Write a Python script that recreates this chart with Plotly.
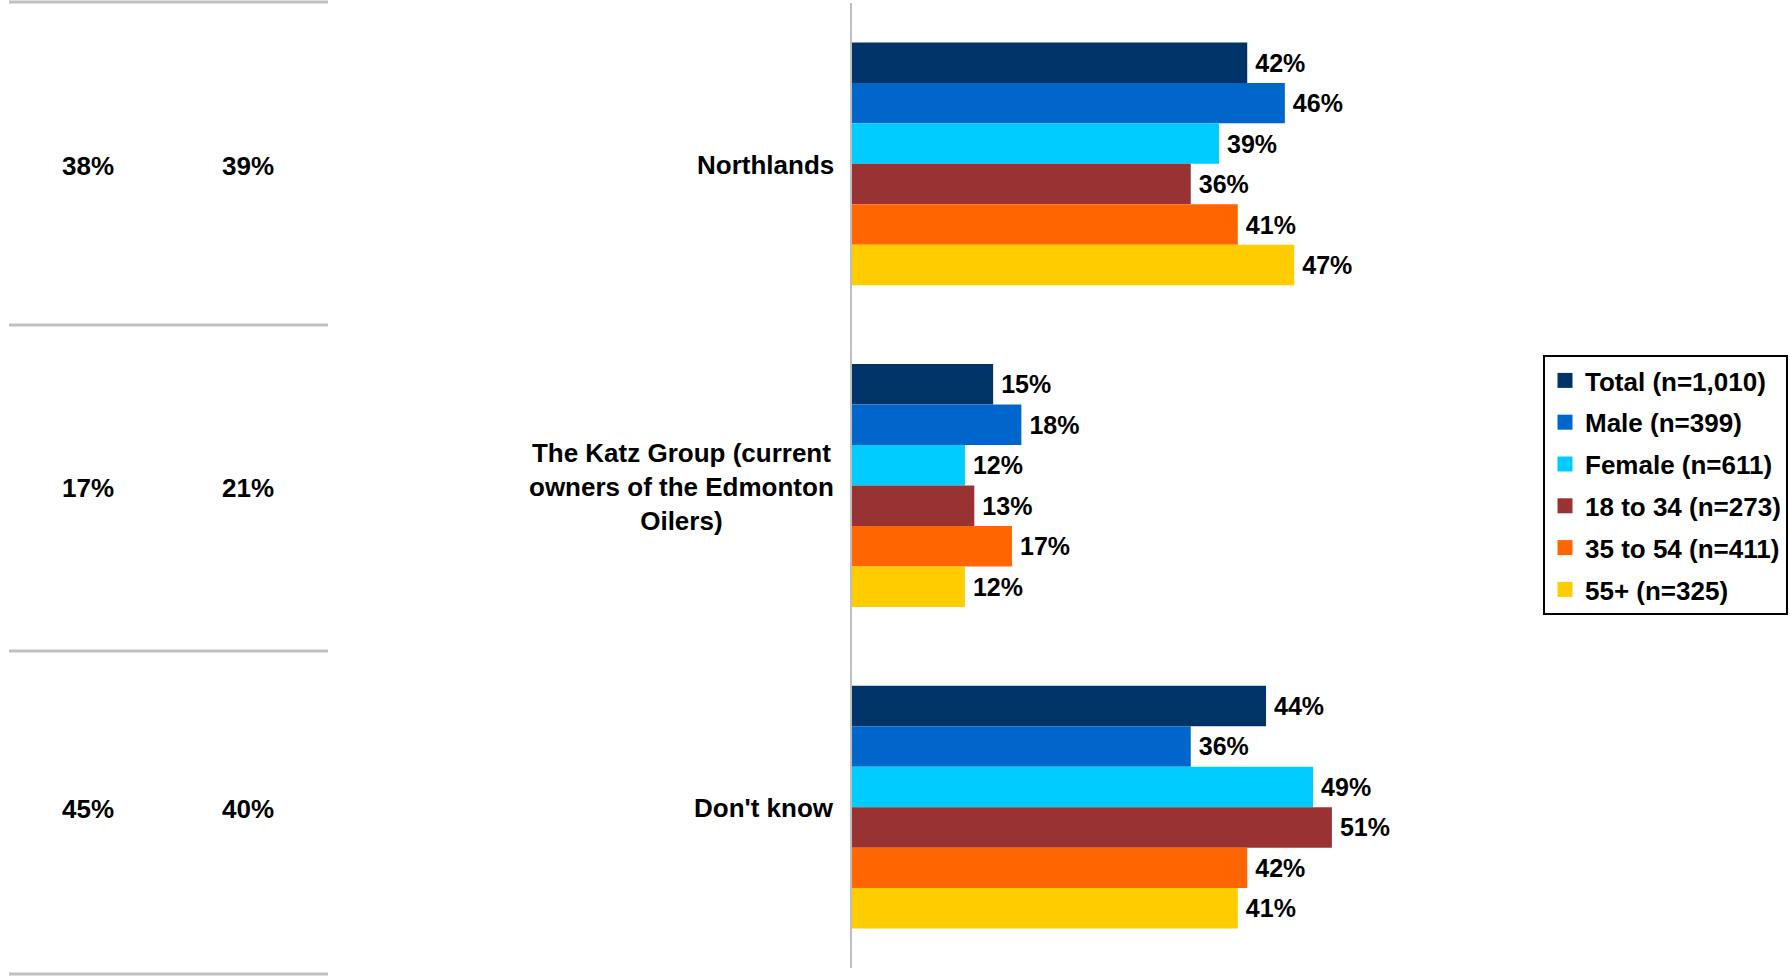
import plotly.graph_objects as go

# ---------------- data ----------------
categories = ["Northlands", "The Katz Group", "Don't know"]
category_labels = [
    "Northlands",
    "The Katz Group (current<br>owners of the Edmonton<br>Oilers)",
    "Don't know",
]
series_names = [
    "Total (n=1,010)",
    "Male (n=399)",
    "Female (n=611)",
    "18 to 34 (n=273)",
    "35 to 54 (n=411)",
    "55+ (n=325)",
]
total = [42, 15, 44]
male = [46, 18, 36]
female = [39, 12, 49]
age_18_34 = [36, 13, 51]
age_35_54 = [41, 17, 42]
age_55_plus = [47, 12, 41]
series_values = [total, male, female, age_18_34, age_35_54, age_55_plus]

# left-hand table columns (one value per category)
table_col1 = [38, 17, 45]
table_col2 = [39, 21, 40]

colors = ["#003366", "#0066CC", "#00CCFF", "#993333", "#FF6600", "#FFCC00"]

FONT = "Arial, 'Liberation Sans', sans-serif"
W, H = 1790, 976
ML, MR, MT, MB = 852, 270, 3, 8
PX_PER_PCT = 9.41
plot_w = W - ML - MR
plot_h = H - MT - MB


def px_x(px):
    return (px - ML) / plot_w


def px_y(py):
    return 1 - (py - MT) / plot_h


fig = go.Figure()
for name, vals, col in zip(series_names, series_values, colors):
    fig.add_trace(
        go.Bar(
            x=vals,
            y=categories,
            orientation="h",
            name=name,
            legendgroup=name,
            showlegend=False,
            marker=dict(color=col, line=dict(width=0)),
            text=[f"\u2009{v}%" for v in vals],
            textposition="outside",
            textfont=dict(family=FONT, size=25, color="black", weight="bold"),
            constraintext="none",
            cliponaxis=False,
            hoverinfo="skip",
        )
    )
# legend entries (square swatches like the original)
for name, col in zip(series_names, colors):
    fig.add_trace(
        go.Scatter(
            x=[None], y=[None], mode="markers", name=name, legendgroup=name,
            marker=dict(symbol="square", size=15, color=col),
            showlegend=True,
        )
    )

annotations = []
# category labels
for cat, lab in zip(categories, category_labels):
    annotations.append(
        dict(
            x=0, xref="x", y=cat, yref="y",
            text=f"<b>{lab}</b>", showarrow=False,
            xanchor="right", yanchor="middle", align="center",
            xshift=-16, yshift=-1,
            font=dict(family=FONT, size=26, color="black"),
        )
    )
# left table values
for cat, v1, v2 in zip(categories, table_col1, table_col2):
    for px, v in ((88, v1), (248, v2)):
        annotations.append(
            dict(
                x=px_x(px), xref="paper", y=cat, yref="y",
                text=f"<b>{v}%</b>", showarrow=False,
                xanchor="center", yanchor="middle", yshift=-2,
                font=dict(family=FONT, size=26, color="black"),
            )
        )

shapes = []
for py in (2, 325, 651, 974):
    shapes.append(
        dict(
            type="line", xref="paper", yref="paper",
            x0=px_x(9), x1=px_x(328), y0=px_y(py), y1=px_y(py),
            line=dict(color="#C0C0C0", width=3),
        )
    )

fig.update_layout(
    width=W, height=H,
    margin=dict(l=ML, r=MR, t=MT, b=MB, pad=0),
    paper_bgcolor="white", plot_bgcolor="white",
    barmode="group", bargap=0.245, bargroupgap=0,
    font=dict(family=FONT, color="black"),
    showlegend=True,
    legend=dict(
        xref="container", yref="container",
        x=1543 / W, y=1 - 355 / H, xanchor="left", yanchor="top",
        bordercolor="black", borderwidth=2, bgcolor="white",
        font=dict(family=FONT, size=26, color="black", weight="bold"),
        traceorder="grouped", tracegroupgap=5, itemsizing="trace",
    ),
    xaxis=dict(range=[0, plot_w / PX_PER_PCT], showgrid=False, zeroline=False,
               showticklabels=False, showline=False, ticks=""),
    yaxis=dict(range=[2.5, -0.5], showgrid=False, zeroline=False,
               showticklabels=False, showline=True, linecolor="#BFBFBF",
               linewidth=2, ticks="", type="category"),
    annotations=annotations,
    shapes=shapes,
)

fig.write_html(
    "out.html",
    config={"displayModeBar": False},
    post_script="document.body.style.margin='0';document.body.style.overflow='hidden';",
)
